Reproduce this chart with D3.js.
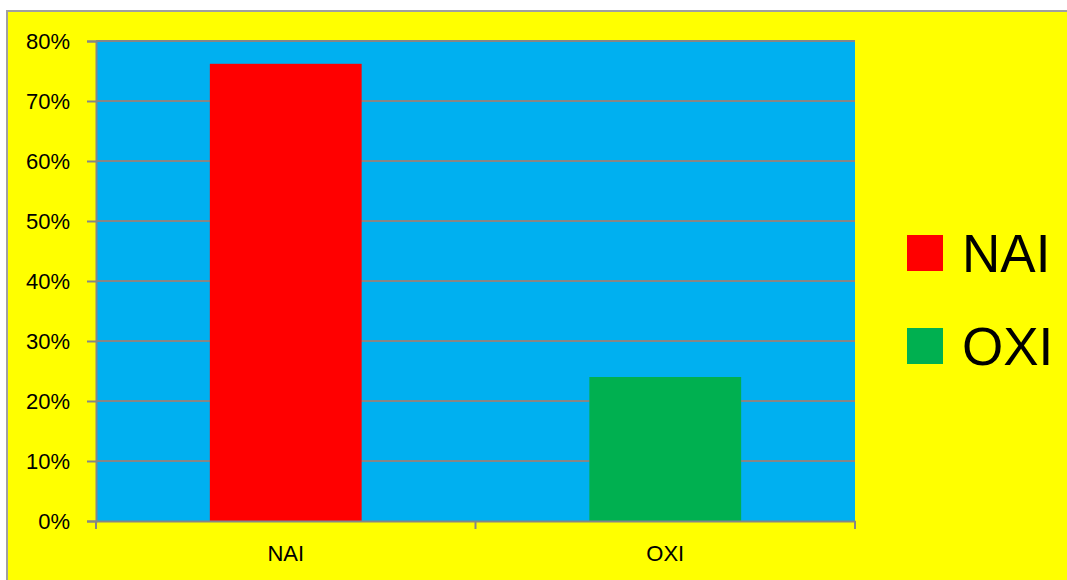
<!DOCTYPE html>
<html>
<head>
<meta charset="utf-8">
<script src="https://d3js.org/d3.v7.min.js"></script>
<style>
  body { margin: 0; background: #fff; }
  text { font-family: "Liberation Sans", Arial, sans-serif; fill: #000; }
</style>
</head>
<body>
<svg width="1067" height="580"></svg>
<script>
// data
var categories = ["NAI", "OXI"];
var values = [0.762, 0.24];
var colors = ["#ff0000", "#00b050"];
var yTicks = [0, 0.1, 0.2, 0.3, 0.4, 0.5, 0.6, 0.7, 0.8];

var svg = d3.select("svg");

// chart frame (runs off the right and bottom of the window)
svg.append("rect")
    .attr("x", 7).attr("y", 11)
    .attr("width", 1080).attr("height", 590)
    .attr("fill", "#ffff00")
    .attr("stroke", "#a0a0a0")
    .attr("stroke-width", 2);

var plotL = 96, plotR = 855, plotT = 41, plotB = 521;

var x = d3.scaleBand()
    .domain(categories)
    .range([plotL, plotR])
    .padding(0);

var y = d3.scaleLinear()
    .domain([0, 0.8])
    .range([plotB, plotT]);

// plot area
svg.append("rect")
    .attr("x", plotL).attr("y", plotT)
    .attr("width", plotR - plotL).attr("height", plotB - plotT)
    .attr("fill", "#00b0f0");

// gridlines
svg.append("g")
    .selectAll("line")
    .data(yTicks.filter(function(d) { return d > 0; }))
    .enter().append("line")
      .attr("x1", plotL).attr("x2", plotR)
      .attr("y1", function(d) { return y(d); })
      .attr("y2", function(d) { return y(d); })
      .attr("stroke", "#868686")
      .attr("stroke-width", 2);

// bars
var barW = x.bandwidth() * 0.4;
svg.append("g")
    .selectAll("rect")
    .data(categories)
    .enter().append("rect")
      .attr("x", function(d) { return x(d) + (x.bandwidth() - barW) / 2; })
      .attr("y", function(d, i) { return y(values[i]); })
      .attr("width", barW)
      .attr("height", function(d, i) { return plotB - y(values[i]); })
      .attr("fill", function(d, i) { return colors[i]; });

// y axis
var yAxis = svg.append("g")
    .attr("transform", "translate(" + plotL + ",0)")
    .call(d3.axisLeft(y).tickValues(yTicks).tickFormat(d3.format(".0%")).tickSize(9).tickPadding(17));
yAxis.select(".domain").attr("stroke", "#868686").attr("stroke-width", 2);
yAxis.selectAll(".tick line").attr("stroke", "#868686").attr("stroke-width", 2);
yAxis.selectAll("text").style("font-size", "22px").attr("fill", "#000");
yAxis.attr("font-family", null);

// x axis with ticks on category boundaries
var xAxis = svg.append("g")
    .attr("transform", "translate(0," + plotB + ")")
    .call(d3.axisBottom(x).tickSize(0).tickPadding(24));
xAxis.select(".domain").attr("stroke", "#868686").attr("stroke-width", 2);
xAxis.selectAll("text").style("font-size", "22px").attr("fill", "#000");
xAxis.attr("font-family", null);
xAxis.selectAll(".bound")
    .data([plotL, plotL + x.step(), plotR])
    .enter().append("line")
      .attr("class", "bound")
      .attr("x1", function(d) { return d; }).attr("x2", function(d) { return d; })
      .attr("y1", 0).attr("y2", 8)
      .attr("stroke", "#868686")
      .attr("stroke-width", 2);

// legend
var legend = svg.append("g")
    .selectAll("g")
    .data(categories)
    .enter().append("g")
      .attr("transform", function(d, i) { return "translate(907," + (235 + i * 93) + ")"; });
legend.append("rect")
    .attr("width", 36).attr("height", 36)
    .attr("fill", function(d, i) { return colors[i]; });
legend.append("text")
    .attr("x", 55).attr("y", 18)
    .attr("dy", "0.36em")
    .style("font-size", "53px")
    .text(function(d) { return d; });
</script>
</body>
</html>
